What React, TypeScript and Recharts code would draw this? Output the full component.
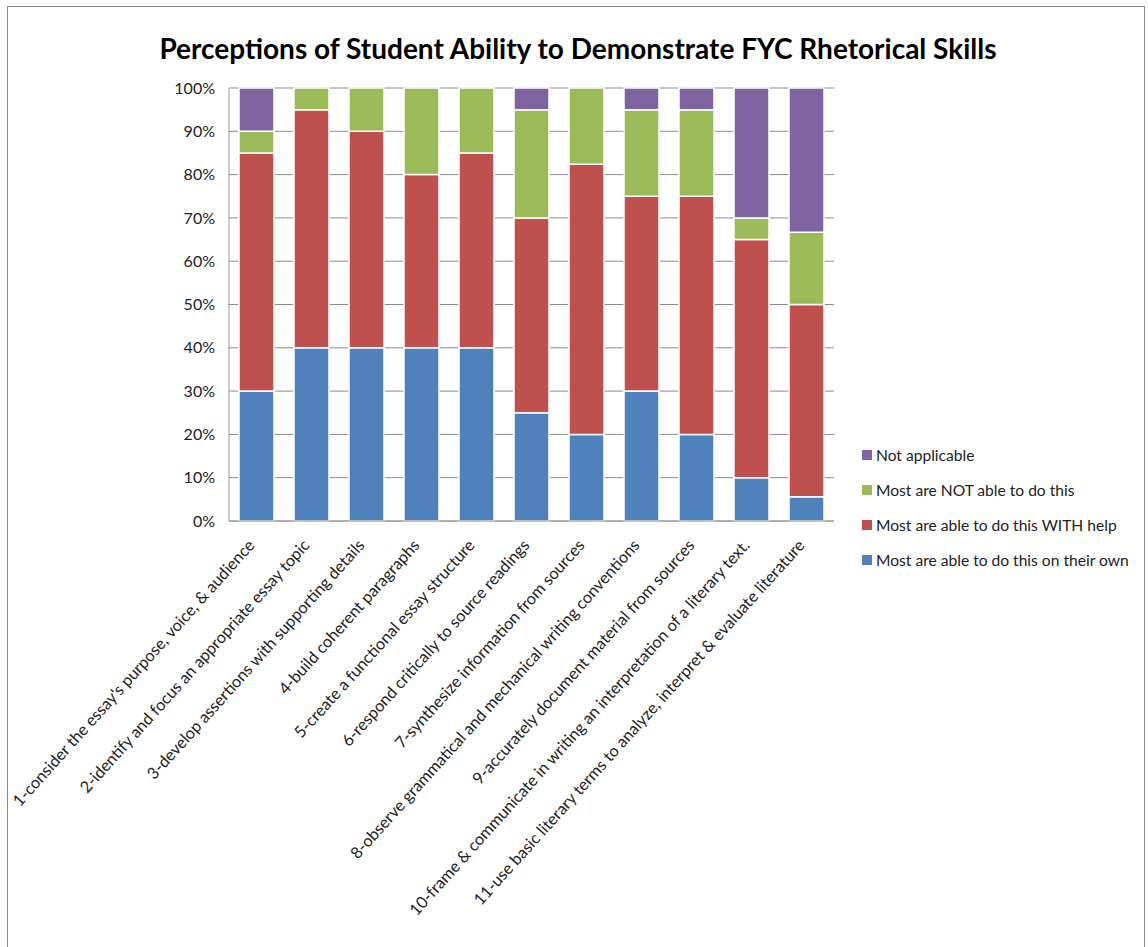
import React from "react";
import { BarChart, Bar, XAxis, YAxis, CartesianGrid } from "recharts";

const categories = [
  "1-consider the essay's purpose, voice, & audience",
  "2-identify and focus an appropriate essay topic",
  "3-develop assertions with supporting details",
  "4-build coherent paragraphs",
  "5-create a functional essay structure",
  "6-respond critically to source readings",
  "7-synthesize information from sources",
  "8-observe grammatical and mechanical writing conventions",
  "9-accurately document material from sources",
  "10-frame & communicate in writing an interpretation of a literary text.",
  "11-use basic literary terms to analyze, interpret & evaluate literature",
];

const ownValues = [30, 40, 40, 40, 40, 25, 20, 30, 20, 10, 5.6];
const withHelpValues = [55, 55, 50, 40, 45, 45, 62.4, 45, 55, 55, 44.4];
const notAbleValues = [5, 5, 10, 20, 15, 25, 17.6, 20, 20, 5, 16.7];
const naValues = [10, 0, 0, 0, 0, 5, 0, 5, 5, 30, 33.3];

const seriesKeys = ["own", "help", "notAble", "na"];
const seriesNames = [
  "Most are able to do this on their own",
  "Most are able to do this WITH help",
  "Most are NOT able to do this",
  "Not applicable",
];
const seriesColors = ["#4F81BD", "#C0504D", "#9BBB59", "#8064A2"];

const yTicks = [0, 10, 20, 30, 40, 50, 60, 70, 80, 90, 100];

const data = categories.map((name, i) => ({
  name,
  own: ownValues[i],
  help: withHelpValues[i],
  notAble: notAbleValues[i],
  na: naValues[i],
}));

const FONT = "Lato, sans-serif";

const XTick = ({ x, y, payload }: any) => (
  <g transform={`translate(${x - 1},${y + 17})`}>
    <text textAnchor="end" transform="rotate(-48)" fontSize={16.3} fill="#222" fontFamily={FONT}>
      {payload.value}
    </text>
  </g>
);

export default function App() {
  return (
    <div
      style={{
        position: "fixed",
        left: 7,
        top: 6,
        width: 1136,
        height: 945,
        border: "1px solid #8a8a8a",
        background: "#fff",
      }}
    >
      <div
        style={{
          position: "absolute",
          left: 0,
          width: 1140,
          top: 24,
          textAlign: "center",
          fontFamily: FONT,
          fontWeight: "bold",
          fontSize: 28,
          color: "#000",
        }}
      >
        Perceptions of Student Ability to Demonstrate FYC Rhetorical Skills
      </div>
      <BarChart
        width={1136}
        height={940}
        data={data}
        margin={{ top: 81, left: 161, right: 310, bottom: 6 }}
      >
        <CartesianGrid vertical={false} stroke="#8c8c8c" />
        <XAxis
          dataKey="name"
          interval={0}
          height={420}
          tickLine={false}
          stroke="#9a9a9a"
          tick={<XTick />}
        />
        <YAxis
          width={60}
          domain={[0, 100]}
          ticks={yTicks}
          tickFormatter={(v) => `${v}%`}
          tickLine={false}
          stroke="#9a9a9a"
          tick={{ fontSize: 16, fill: "#222", fontFamily: FONT, dx: -6 }}
        />
        {seriesKeys.map((k, i) => (
          <Bar
            key={k}
            dataKey={k}
            name={seriesNames[i]}
            stackId="a"
            fill={seriesColors[i]}
            stroke="#fff"
            strokeWidth={1.5}
            barSize={35}
            isAnimationActive={false}
          />
        ))}
      </BarChart>
      <div
        style={{
          position: "absolute",
          left: 854,
          top: 430,
          fontFamily: FONT,
          fontSize: 15.6,
          color: "#222",
        }}
      >
        {seriesNames
          .map((n, i) => ({ n, c: seriesColors[i] }))
          .reverse()
          .map(({ n, c }) => (
            <div key={n} style={{ display: "flex", alignItems: "center", height: 35 }}>
              <span style={{ width: 10, height: 10, background: c, marginRight: 4 }} />
              {n}
            </div>
          ))}
      </div>
    </div>
  );
}
